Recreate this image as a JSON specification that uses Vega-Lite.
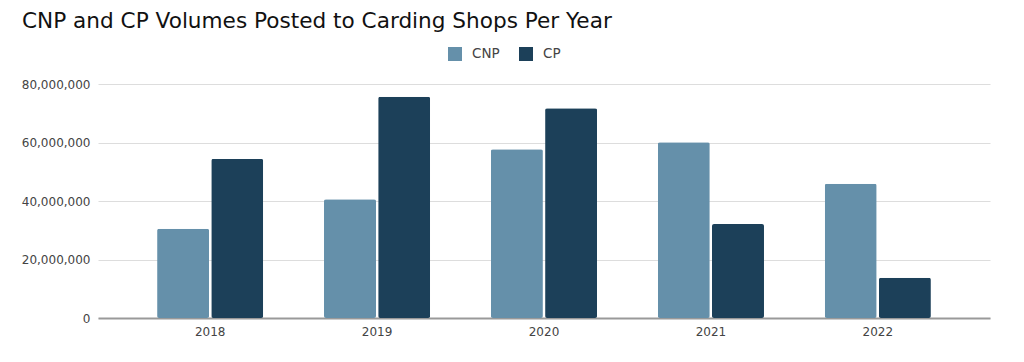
{
  "$schema": "https://vega.github.io/schema/vega-lite/v6.json",
  "width": 892,
  "height": 234,
  "autosize": "none",
  "padding": {"left": 98, "top": 84, "right": 34, "bottom": 44},
  "background": "white",
  "title": {
    "text": "CNP and CP Volumes Posted to Carding Shops Per Year",
    "anchor": "start",
    "frame": "group",
    "font": "DejaVu Sans",
    "fontSize": 21.6,
    "fontWeight": "normal",
    "color": "#111111",
    "baseline": "alphabetic",
    "dx": -76,
    "dy": 22.5,
    "offset": 20
  },
  "data": {
    "values": [
      {"year": "2018", "series": "CNP", "value": 30500000},
      {"year": "2018", "series": "CP", "value": 54400000},
      {"year": "2019", "series": "CNP", "value": 40600000},
      {"year": "2019", "series": "CP", "value": 75600000},
      {"year": "2020", "series": "CNP", "value": 57700000},
      {"year": "2020", "series": "CP", "value": 71700000},
      {"year": "2021", "series": "CNP", "value": 60100000},
      {"year": "2021", "series": "CP", "value": 32100000},
      {"year": "2022", "series": "CNP", "value": 45900000},
      {"year": "2022", "series": "CP", "value": 13800000}
    ]
  },
  "mark": {"type": "bar", "cornerRadius": 2},
  "encoding": {
    "x": {
      "field": "year",
      "type": "nominal",
      "title": null,
      "scale": {"paddingInner": 0.364, "paddingOuter": 0.354},
      "axis": {
        "labelAngle": 0,
        "ticks": false,
        "domainColor": "#999999",
        "domainWidth": 2,
        "labelFont": "DejaVu Sans",
        "labelFontSize": 12,
        "labelColor": "#444444",
        "labelPadding": 8,
        "grid": false
      }
    },
    "xOffset": {
      "field": "series",
      "type": "nominal",
      "sort": ["CNP", "CP"],
      "scale": {"paddingInner": 0.04}
    },
    "y": {
      "field": "value",
      "type": "quantitative",
      "title": null,
      "scale": {"domain": [0, 80000000]},
      "axis": {
        "values": [0, 20000000, 40000000, 60000000, 80000000],
        "format": ",d",
        "ticks": false,
        "domain": false,
        "gridColor": "#dddddd",
        "gridWidth": 1,
        "labelFont": "DejaVu Sans",
        "labelFontSize": 12,
        "labelColor": "#444444",
        "labelPadding": 8
      }
    },
    "color": {
      "field": "series",
      "type": "nominal",
      "sort": ["CNP", "CP"],
      "scale": {"domain": ["CNP", "CP"], "range": ["#6590aa", "#1c4059"]},
      "legend": {
        "title": null,
        "orient": "none",
        "direction": "horizontal",
        "legendX": 350,
        "legendY": -37,
        "symbolType": "square",
        "symbolSize": 196,
        "symbolStrokeWidth": 0,
        "labelFont": "DejaVu Sans",
        "labelFontSize": 13.5,
        "labelColor": "#444444",
        "labelOffset": 10,
        "columnPadding": 19
      }
    }
  },
  "config": {"view": {"stroke": null}}
}
